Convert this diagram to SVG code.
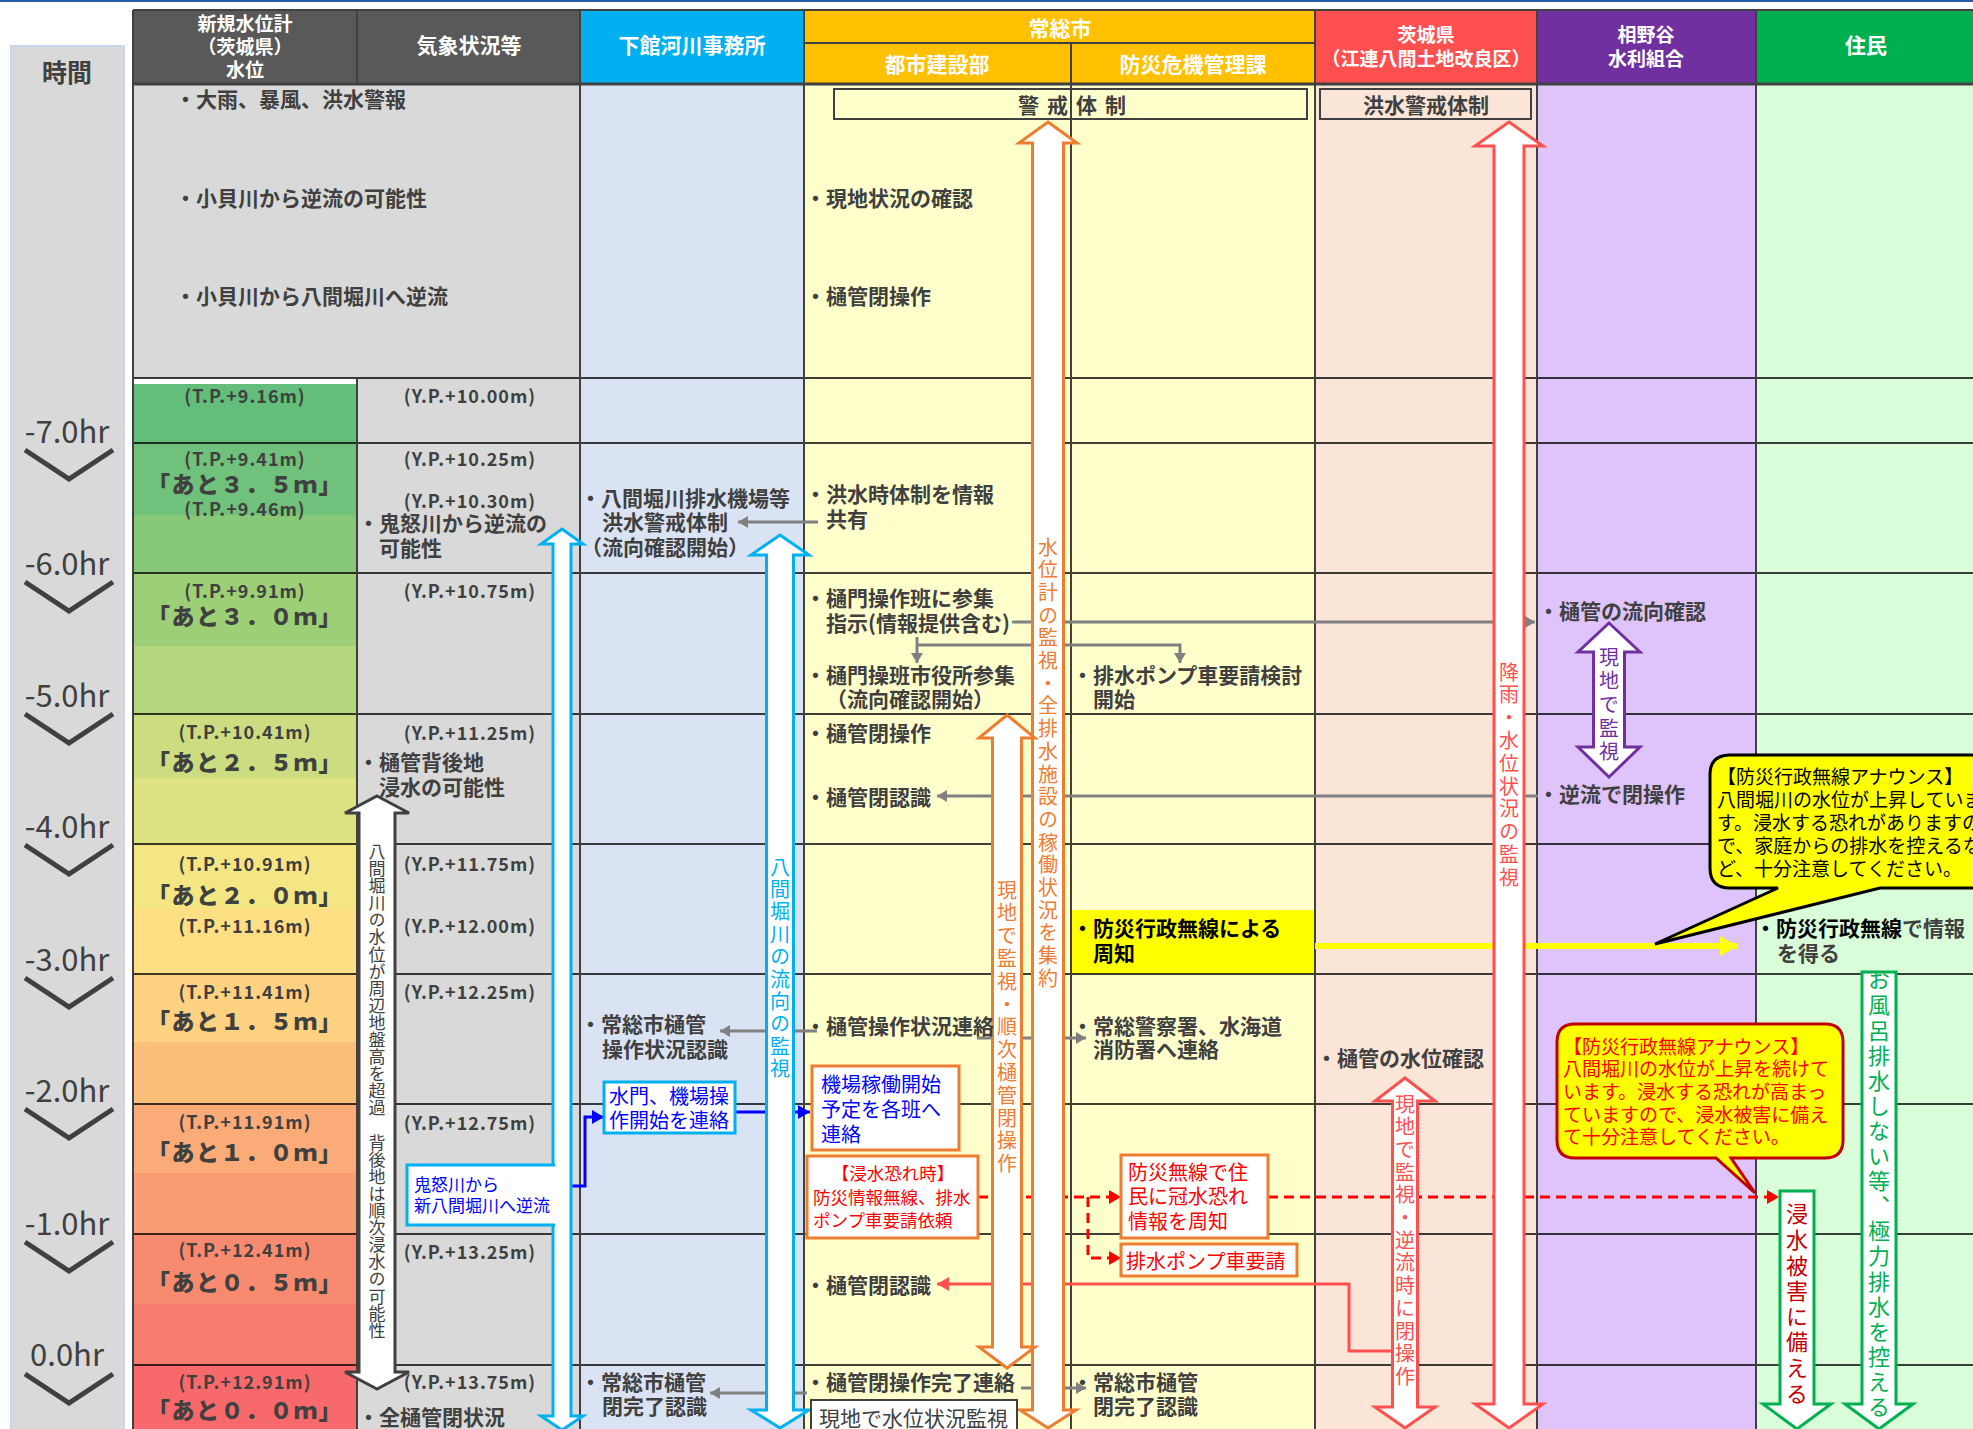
<svg xmlns="http://www.w3.org/2000/svg" width="1973" height="1429" viewBox="0 0 1973 1429">
<style>
text{font-family:"Noto Sans CJK JP","Noto Sans",sans-serif;}
.t{font-size:21px;font-weight:bold;fill:#404040;dominant-baseline:central;}
.k{fill:#000;}
.h{font-size:21px;font-weight:bold;fill:#fff;text-anchor:middle;dominant-baseline:central;}
.h2{font-size:19px;}
.tp{font-size:18px;font-weight:bold;fill:#404040;text-anchor:middle;dominant-baseline:central;letter-spacing:1px;}
.big{font-size:23px;font-weight:900;fill:#404040;text-anchor:middle;dominant-baseline:central;letter-spacing:1.5px;}
.hr{font-family:"Noto Sans CJK JP","Liberation Sans",sans-serif;font-size:31px;fill:#404040;text-anchor:middle;dominant-baseline:central;}
.v{writing-mode:vertical-rl;font-size:20px;}
.bx{font-size:20px;dominant-baseline:central;}
.vl{stroke:#404040;stroke-width:2;fill:none;}
.rl{stroke:#000;stroke-width:1.5;fill:none;}
.chev{stroke:#404040;stroke-width:5;fill:none;}
.cg{stroke:#808080;stroke-width:3;fill:none;}
.cr{stroke:#ff0000;stroke-width:3;fill:none;stroke-dasharray:10 6;}
.cr2{stroke:#ff5050;stroke-width:3;fill:none;}
.cb{stroke:#0000ff;stroke-width:3;fill:none;}
.cy{stroke:#ffff00;stroke-width:6;fill:none;}
.arO{fill:#fff;stroke:#ed7d31;stroke-width:3;}
.arR{fill:#fff;stroke:#ff5050;stroke-width:3;}
.arB{fill:#fff;stroke:#00b0f0;stroke-width:3;}
.arK{fill:#fff;stroke:#404040;stroke-width:3;}
.arP{fill:#fff;stroke:#7030a0;stroke-width:3;}
.arG{fill:#fff;stroke:#00b050;stroke-width:3;}
</style>
<defs>
<marker id="ag" markerUnits="userSpaceOnUse" markerWidth="12" markerHeight="14" refX="10" refY="6" orient="auto"><path d="M0,0 L10,6 L0,12 z" fill="#808080"/></marker>
<marker id="ar" markerUnits="userSpaceOnUse" markerWidth="14" markerHeight="16" refX="12" refY="7" orient="auto"><path d="M0,0 L12,7 L0,14 z" fill="#ff0000"/></marker>
<marker id="ar2" markerUnits="userSpaceOnUse" markerWidth="14" markerHeight="16" refX="12" refY="7" orient="auto"><path d="M0,0 L12,7 L0,14 z" fill="#ff5050"/></marker>
<marker id="ab" markerUnits="userSpaceOnUse" markerWidth="14" markerHeight="16" refX="12" refY="7" orient="auto"><path d="M0,0 L12,7 L0,14 z" fill="#0000ff"/></marker>
<marker id="ay" markerUnits="userSpaceOnUse" markerWidth="20" markerHeight="22" refX="18" refY="10" orient="auto"><path d="M0,0 L18,10 L0,20 z" fill="#ffff00"/></marker>
</defs>

<!-- top line -->
<rect x="0" y="0" width="1973" height="2" fill="#2a5aa8"/>

<!-- time column -->
<g id="time">
<rect x="11" y="46" width="113" height="1390" fill="#d9d9d9" stroke="#c9d6ec" stroke-width="2"/>
<text x="67" y="71" class="t" style="font-size:25px;text-anchor:middle">時間</text>
<text x="67" y="429" class="hr">-7.0hr</text>
<path class="chev" d="M25,450 L69,479 L113,450"/>
<text x="67" y="561" class="hr">-6.0hr</text>
<path class="chev" d="M25,582 L69,611 L113,582"/>
<text x="67" y="693" class="hr">-5.0hr</text>
<path class="chev" d="M25,714 L69,743 L113,714"/>
<text x="67" y="824" class="hr">-4.0hr</text>
<path class="chev" d="M25,845 L69,874 L113,845"/>
<text x="67" y="957" class="hr">-3.0hr</text>
<path class="chev" d="M25,978 L69,1007 L113,978"/>
<text x="67" y="1088" class="hr">-2.0hr</text>
<path class="chev" d="M25,1109 L69,1138 L113,1109"/>
<text x="67" y="1221" class="hr">-1.0hr</text>
<path class="chev" d="M25,1242 L69,1271 L113,1242"/>
<text x="67" y="1352" class="hr">0.0hr</text>
<path class="chev" d="M25,1374 L69,1403 L113,1374"/>
</g>

<!-- backgrounds -->
<g id="backgrounds">
<rect x="133" y="84" width="447" height="1345" fill="#d9d9d9"/>
<rect x="580" y="84" width="224" height="1345" fill="#dae3f3"/>
<rect x="804" y="84" width="511" height="1345" fill="#ffffcc"/>
<rect x="1315" y="84" width="222" height="1345" fill="#fbe5d6"/>
<rect x="1537" y="84" width="219" height="1345" fill="#dfc4fb"/>
<rect x="1756" y="84" width="217" height="1345" fill="#d9fdd9"/>
<rect x="133" y="378" width="224" height="6" fill="#fff"/>
<rect x="133" y="384" width="224" height="59" fill="#63be7b"/>
<rect x="133" y="443" width="224" height="72" fill="#6fc17b"/>
<rect x="133" y="515" width="224" height="58" fill="#86c778"/>
<rect x="133" y="573" width="224" height="73" fill="#9dcf77"/>
<rect x="133" y="646" width="224" height="68" fill="#b4d67d"/>
<rect x="133" y="714" width="224" height="64" fill="#cbdd80"/>
<rect x="133" y="778" width="224" height="66" fill="#dde283"/>
<rect x="133" y="844" width="224" height="64" fill="#f3e683"/>
<rect x="133" y="908" width="224" height="66" fill="#fedf83"/>
<rect x="133" y="974" width="224" height="68" fill="#fed280"/>
<rect x="133" y="1042" width="224" height="62" fill="#fcbf7b"/>
<rect x="133" y="1104" width="224" height="69" fill="#fbab77"/>
<rect x="133" y="1173" width="224" height="61" fill="#f99c71"/>
<rect x="133" y="1234" width="224" height="70" fill="#f88b6f"/>
<rect x="133" y="1304" width="224" height="61" fill="#f87c6d"/>
<rect x="133" y="1365" width="224" height="64" fill="#f8696b"/>
<rect x="1071" y="910" width="244" height="64" fill="#ffff00"/>
</g>

<!-- header -->
<g id="header">
<rect x="133" y="10" width="447" height="74" fill="#595959"/>
<rect x="580" y="10" width="224" height="74" fill="#00b0f0"/>
<rect x="804" y="10" width="511" height="74" fill="#ffc000"/>
<rect x="1315" y="10" width="222" height="74" fill="#ff5050"/>
<rect x="1537" y="10" width="219" height="74" fill="#7030a0"/>
<rect x="1756" y="10" width="217" height="74" fill="#00b050"/>
<text x="245" y="22" class="h h2">新規水位計</text>
<text x="245" y="45" class="h h2">（茨城県）</text>
<text x="245" y="68" class="h h2">水位</text>
<text x="469" y="44" class="h">気象状況等</text>
<text x="692" y="44" class="h">下館河川事務所</text>
<text x="1060" y="27" class="h">常総市</text>
<text x="937" y="63" class="h">都市建設部</text>
<text x="1193" y="63" class="h">防災危機管理課</text>
<text x="1426" y="33" class="h h2">茨城県</text>
<text x="1426" y="57" class="h h2">（江連八間土地改良区）</text>
<text x="1646" y="33" class="h h2">相野谷</text>
<text x="1646" y="57" class="h h2">水利組合</text>
<text x="1866" y="44" class="h">住民</text>
</g>

<!-- status boxes -->
<g id="keikai-box">
<rect x="834" y="89" width="473" height="30" fill="none" stroke="#404040" stroke-width="2"/>
<text x="1018" y="104" class="t" style="letter-spacing:8px">警戒体制</text>
</g>
<g id="kouzui-box">
<rect x="1320" y="89" width="211" height="30" fill="none" stroke="#404040" stroke-width="2"/>
<text x="1426" y="104" class="t" style="text-anchor:middle">洪水警戒体制</text>
</g>

<!-- grid -->
<g id="grid">
<path class="rl" d="M133,378 H1973 M133,443 H1973 M133,573 H1973 M133,714 H1973 M133,844 H1973 M133,974 H1973 M133,1104 H1973 M133,1234 H1973 M133,1365 H1973"/>
<path class="vl" d="M133,10 V1429 M357,10 V84 M357,378 V1429 M580,10 V1429 M804,10 V1429 M1071,43 V1429 M1315,10 V1429 M1537,10 V1429 M1756,10 V1429"/>
<path class="vl" d="M133,10 H1973 M804,43 H1315"/>
<path d="M133,84 H1973" stroke="#404040" stroke-width="3"/>
</g>

<!-- column 1 water level -->
<g id="level">
<text x="245" y="395" class="tp">(T.P.+9.16m)</text>
<text x="245" y="458" class="tp">(T.P.+9.41m)</text>
<text x="245" y="483" class="big">「あと３．５ｍ」</text>
<text x="245" y="508" class="tp">(T.P.+9.46m)</text>
<text x="245" y="590" class="tp">(T.P.+9.91m)</text>
<text x="245" y="615" class="big">「あと３．０ｍ」</text>
<text x="245" y="731" class="tp">(T.P.+10.41m)</text>
<text x="245" y="761" class="big">「あと２．５ｍ」</text>
<text x="245" y="863" class="tp">(T.P.+10.91m)</text>
<text x="245" y="894" class="big">「あと２．０ｍ」</text>
<text x="245" y="925" class="tp">(T.P.+11.16m)</text>
<text x="245" y="991" class="tp">(T.P.+11.41m)</text>
<text x="245" y="1020" class="big">「あと１．５ｍ」</text>
<text x="245" y="1121" class="tp">(T.P.+11.91m)</text>
<text x="245" y="1151" class="big">「あと１．０ｍ」</text>
<text x="245" y="1249" class="tp">(T.P.+12.41m)</text>
<text x="245" y="1281" class="big">「あと０．５ｍ」</text>
<text x="245" y="1381" class="tp">(T.P.+12.91m)</text>
<text x="245" y="1409" class="big">「あと０．０ｍ」</text>
</g>

<!-- column 2 weather -->
<g id="weather">
<text x="175" y="98" class="t">・大雨、暴風、洪水警報</text>
<text x="175" y="197" class="t">・小貝川から逆流の可能性</text>
<text x="175" y="295" class="t">・小貝川から八間堀川へ逆流</text>
<text x="470" y="395" class="tp">(Y.P.+10.00m)</text>
<text x="470" y="458" class="tp">(Y.P.+10.25m)</text>
<text x="470" y="500" class="tp">(Y.P.+10.30m)</text>
<text x="358" y="522" class="t">・鬼怒川から逆流の</text>
<text x="379" y="547" class="t">可能性</text>
<text x="470" y="590" class="tp">(Y.P.+10.75m)</text>
<text x="470" y="732" class="tp">(Y.P.+11.25m)</text>
<text x="358" y="761" class="t">・樋管背後地</text>
<text x="379" y="786" class="t">浸水の可能性</text>
<text x="470" y="863" class="tp">(Y.P.+11.75m)</text>
<text x="470" y="925" class="tp">(Y.P.+12.00m)</text>
<text x="470" y="991" class="tp">(Y.P.+12.25m)</text>
<text x="470" y="1122" class="tp">(Y.P.+12.75m)</text>
<text x="470" y="1251" class="tp">(Y.P.+13.25m)</text>
<text x="470" y="1381" class="tp">(Y.P.+13.75m)</text>
<text x="358" y="1416" class="t">・全樋管閉状況</text>
</g>

<!-- connectors -->
<g id="connectors">
<path class="cg" d="M818,522 H738" marker-end="url(#ag)"/>
<path class="cg" d="M1012,622 H1535" marker-end="url(#ag)"/>
<path class="cg" d="M917,637 V663" marker-end="url(#ag)"/>
<path class="cg" d="M917,645 H1180 V663" marker-end="url(#ag)"/>
<path class="cg" d="M1538,796 H937" marker-end="url(#ag)"/>
<path class="cg" d="M817,1031 H720" marker-end="url(#ag)"/>
<path class="cg" d="M977,1038 H1086" marker-end="url(#ag)"/>
<path class="cg" d="M807,1393 H710" marker-end="url(#ag)"/>
<path class="cg" d="M1021,1388 H1086" marker-end="url(#ag)"/>
<path class="cr" d="M978,1197 H1121" marker-end="url(#ar)"/>
<path class="cr" d="M1088,1197 V1258 H1121" marker-end="url(#ar)"/>
<path class="cr" d="M1268,1197 H1779" marker-end="url(#ar)"/>
<path class="cr2" d="M1392,1351 H1349 V1284 H937" marker-end="url(#ar2)"/>
<path class="cb" d="M571,1186 H585 V1117 H604" marker-end="url(#ab)"/>
<path class="cb" d="M735,1112 H810" marker-end="url(#ab)"/>
<path class="cy" d="M1315,946 H1738" marker-end="url(#ay)"/>
</g>

<!-- big arrows -->
<g id="arrow-suii">
<path class="arO" d="M1048,122 L1077,143 L1063.5,143 L1063.5,1410 L1076,1410 L1048,1428 L1020,1410 L1032.5,1410 L1032.5,143 L1019,143 Z"/>
<text x="1048" y="537" class="v" fill="#ed7d31" style="letter-spacing:2.7px">水位計の監視・全排水施設の稼働状況を集約</text>
</g>
<g id="arrow-genchi1">
<path class="arO" d="M1007,715 L1035,738 L1021.5,738 L1021.5,1347 L1035,1347 L1007,1368 L979,1347 L992.5,1347 L992.5,738 L979,738 Z"/>
<text x="1007" y="880" class="v" fill="#ed7d31" style="letter-spacing:2.8px">現地で監視・順次樋管閉操作</text>
</g>
<g id="arrow-kouu">
<path class="arR" d="M1509,122 L1543,146 L1524,146 L1524,1404 L1543,1404 L1509,1428 L1475,1404 L1494,1404 L1494,146 L1475,146 Z"/>
<text x="1509" y="662" class="v" fill="#ff5050" style="letter-spacing:2.8px">降雨・水位状況の監視</text>
</g>
<g id="arrow-genchi2">
<path class="arR" d="M1405,1078 L1435,1101 L1417.5,1101 L1417.5,1407 L1435,1407 L1405,1428 L1375,1407 L1392.5,1407 L1392.5,1101 L1375,1101 Z"/>
<text x="1405" y="1094" class="v" fill="#ff5050" style="letter-spacing:2.7px">現地で監視・逆流時に閉操作</text>
</g>
<g id="arrow-blue1">
<path class="arB" d="M562,529 L583,544 L571,544 L571,1416 L583,1416 L562,1430 L541,1416 L553,1416 L553,544 L541,544 Z"/>
</g>
<g id="arrow-ryuko">
<path class="arB" d="M780,535 L809,555 L793.5,555 L793.5,1410 L809,1410 L780,1428 L751,1410 L766.5,1410 L766.5,555 L751,555 Z"/>
<text x="780" y="857" class="v" fill="#00b0f0" style="letter-spacing:2.4px">八間堀川の流向の監視</text>
</g>
<g id="arrow-haigo">
<path class="arK" d="M377,796 L409,813 L395,813 L395,1372 L409,1372 L377,1389 L345,1372 L359,1372 L359,813 L345,813 Z"/>
<text x="377" y="843" class="v" fill="#404040" style="font-size:17px;letter-spacing:0.1px">八間堀川の水位が周辺地盤高を超過　背後地は順次浸水の可能性</text>
</g>
<g id="arrow-purple">
<path class="arP" d="M1609,623 L1640,652 L1624.5,652 L1624.5,747 L1640,747 L1609,777 L1578,747 L1593.5,747 L1593.5,652 L1578,652 Z"/>
<text x="1609" y="647" class="v" fill="#7030a0" style="letter-spacing:3.7px">現地で監視</text>
</g>
<g id="arrow-sonae">
<path class="arG" d="M1780,1191 L1814,1191 L1814,1404 L1831,1404 L1797,1429 L1763,1404 L1780,1404 Z"/>
<text x="1797" y="1203" class="v" fill="#c00000" style="font-size:22px;letter-spacing:3.6px">浸水被害に備える</text>
</g>
<g id="arrow-ofuro">
<path class="arG" d="M1862,972 L1896,972 L1896,1404 L1913,1404 L1879,1429 L1845,1404 L1862,1404 Z"/>
<text x="1879" y="969" class="v" fill="#00b050" style="font-size:22px;letter-spacing:3.1px">お風呂排水しない等、極力排水を控える</text>
</g>

<!-- column 3 -->
<g id="shimodate">
<text x="580" y="497" class="t">・八間堀川排水機場等</text>
<text x="602" y="521" class="t">洪水警戒体制</text>
<text x="581" y="546" class="t">（流向確認開始）</text>
<text x="580" y="1023" class="t">・常総市樋管</text>
<text x="602" y="1048" class="t">操作状況認識</text>
<text x="580" y="1381" class="t">・常総市樋管</text>
<text x="602" y="1405" class="t">閉完了認識</text>
</g>
<g id="kinugawa-box">
<rect x="407" y="1165" width="162" height="60" fill="#fff"/>
<path d="M555,1165 H407 V1225 H555" fill="none" stroke="#00b0f0" stroke-width="3"/>
<text x="414" y="1183" class="bx" fill="#0000ff" style="font-size:17px">鬼怒川から</text>
<text x="414" y="1204" class="bx" fill="#0000ff" style="font-size:17px">新八間堀川へ逆流</text>
</g>
<g id="suimon-box">
<rect x="604" y="1082" width="131" height="51" fill="#fff" stroke="#00b0f0" stroke-width="3"/>
<text x="609" y="1095" class="bx" fill="#0000ff">水門、機場操</text>
<text x="609" y="1119" class="bx" fill="#0000ff">作開始を連絡</text>
</g>

<!-- column 4 -->
<g id="toshi">
<text x="805" y="197" class="t">・現地状況の確認</text>
<text x="805" y="295" class="t">・樋管閉操作</text>
<text x="805" y="493" class="t">・洪水時体制を情報</text>
<text x="826" y="518" class="t">共有</text>
<text x="805" y="597" class="t">・樋門操作班に参集</text>
<text x="826" y="622" class="t">指示(情報提供含む)</text>
<text x="805" y="674" class="t">・樋門操班市役所参集</text>
<text x="826" y="698" class="t">（流向確認開始）</text>
<text x="805" y="732" class="t">・樋管閉操作</text>
<text x="805" y="796" class="t">・樋管閉認識</text>
<text x="805" y="1025" class="t">・樋管操作状況連絡</text>
<text x="805" y="1284" class="t">・樋管閉認識</text>
<text x="805" y="1381" class="t">・樋管閉操作完了連絡</text>
</g>
<g id="kijo-box">
<rect x="812" y="1066" width="147" height="84" fill="#fff" stroke="#ed7d31" stroke-width="3"/>
<text x="821" y="1083" class="bx" fill="#0000ff">機場稼働開始</text>
<text x="821" y="1108" class="bx" fill="#0000ff">予定を各班へ</text>
<text x="821" y="1133" class="bx" fill="#0000ff">連絡</text>
</g>
<g id="shinsui-box">
<rect x="807" y="1156" width="171" height="82" fill="#fff" stroke="#ed7d31" stroke-width="3"/>
<text x="893" y="1172" class="bx" fill="#ff0000" style="font-size:17.5px;text-anchor:middle">【浸水恐れ時】</text>
<text x="813" y="1196" class="bx" fill="#ff0000" style="font-size:17.5px">防災情報無線、排水</text>
<text x="813" y="1219" class="bx" fill="#ff0000" style="font-size:17.5px">ポンプ車要請依頼</text>
</g>
<g id="genchi-box">
<rect x="811" y="1400" width="206" height="40" fill="#fff" stroke="#404040" stroke-width="2"/>
<text x="819" y="1417" class="bx" fill="#404040" style="font-size:21px">現地で水位状況監視</text>
</g>

<!-- column 5 -->
<g id="bousai">
<text x="1072" y="674" class="t">・排水ポンプ車要請検討</text>
<text x="1093" y="698" class="t">開始</text>
<text x="1072" y="927" class="t k">・防災行政無線による</text>
<text x="1093" y="952" class="t k">周知</text>
<text x="1072" y="1025" class="t">・常総警察署、水海道</text>
<text x="1093" y="1048" class="t">消防署へ連絡</text>
<text x="1072" y="1381" class="t">・常総市樋管</text>
<text x="1093" y="1405" class="t">閉完了認識</text>
</g>
<g id="musen-box">
<rect x="1121" y="1155" width="147" height="83" fill="#fff" stroke="#ed7d31" stroke-width="3"/>
<text x="1128" y="1171" class="bx" fill="#ff0000">防災無線で住</text>
<text x="1128" y="1195" class="bx" fill="#ff0000">民に冠水恐れ</text>
<text x="1128" y="1220" class="bx" fill="#ff0000">情報を周知</text>
</g>
<g id="pump-box">
<rect x="1121" y="1244" width="176" height="32" fill="#fff" stroke="#ed7d31" stroke-width="3"/>
<text x="1126" y="1260" class="bx" fill="#ff0000">排水ポンプ車要請</text>
</g>

<!-- column 6 -->
<g id="ibaraki">
<text x="1316" y="1057" class="t">・樋管の水位確認</text>
</g>

<!-- column 7 -->
<g id="ainoya">
<text x="1538" y="610" class="t">・樋管の流向確認</text>
<text x="1538" y="793" class="t">・逆流で閉操作</text>
</g>

<!-- column 8 -->
<g id="jumin">
<text x="1755" y="927" class="t"><tspan fill="#000">・防災行政無線</tspan>で情報</text>
<text x="1777" y="952" class="t">を得る</text>
</g>

<!-- callouts -->
<g id="callout-announce1">
<path d="M1730,755 H2010 V888 H1880 L1655,944 L1778,888 H1730 Q1710,888 1710,868 V775 Q1710,755 1730,755 Z" fill="#ffff00" stroke="#000" stroke-width="3"/>
<text x="1717" y="775" class="bx" fill="#000" style="font-size:19px">【防災行政無線アナウンス】</text>
<text x="1717" y="798" class="bx" fill="#000" style="font-size:19px">八間堀川の水位が上昇していま</text>
<text x="1717" y="821" class="bx" fill="#000" style="font-size:19px">す。浸水する恐れがありますの</text>
<text x="1717" y="844" class="bx" fill="#000" style="font-size:19px">で、家庭からの排水を控えるな</text>
<text x="1717" y="867" class="bx" fill="#000" style="font-size:19px">ど、十分注意してください。</text>
</g>
<g id="callout-announce2">
<path d="M1575,1024 H1825 Q1843,1024 1843,1042 V1140 Q1843,1158 1825,1158 H1731 L1755,1193 L1716,1158 H1575 Q1557,1158 1557,1140 V1042 Q1557,1024 1575,1024 Z" fill="#ffff00" stroke="#c00000" stroke-width="3"/>
<text x="1563" y="1045" class="bx" fill="#ff0000" style="font-size:19px">【防災行政無線アナウンス】</text>
<text x="1563" y="1067" class="bx" fill="#ff0000" style="font-size:19px">八間堀川の水位が上昇を続けて</text>
<text x="1563" y="1090" class="bx" fill="#ff0000" style="font-size:19px">います。浸水する恐れが高まっ</text>
<text x="1563" y="1113" class="bx" fill="#ff0000" style="font-size:19px">ていますので、浸水被害に備え</text>
<text x="1563" y="1135" class="bx" fill="#ff0000" style="font-size:19px">て十分注意してください。</text>
</g>
</svg>
